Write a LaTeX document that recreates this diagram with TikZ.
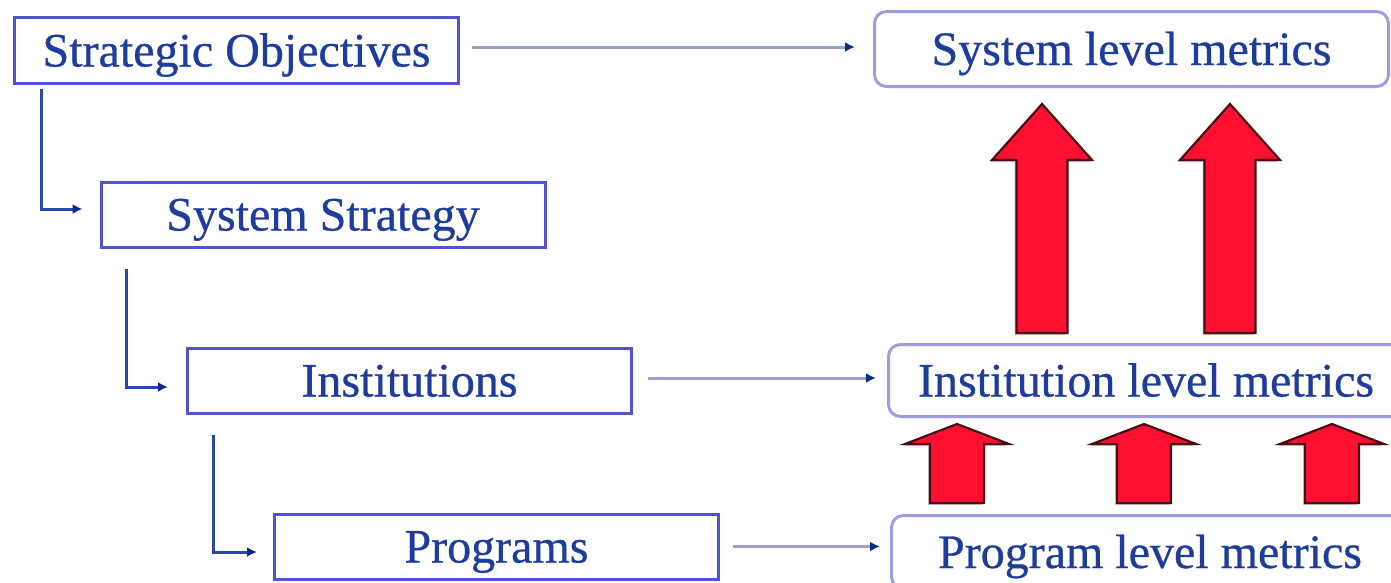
\documentclass[tikz,border=0pt]{standalone}
\usepackage{fontspec}
\setmainfont{Liberation Serif}[FakeBold=0.6]
\usetikzlibrary{arrows.meta}
\definecolor{boxblue}{HTML}{5252D2}
\definecolor{softblue}{HTML}{9C9CE2}
\definecolor{inkblue}{HTML}{1E3C9C}
\definecolor{linkblue}{HTML}{2A48AA}
\definecolor{pale}{HTML}{98A0CC}
\definecolor{tipblue}{HTML}{0A2A8E}
\definecolor{arrowred}{HTML}{FF1030}
\definecolor{arrowrim}{HTML}{4A0C12}

% block arrow pointing up: centre x, tip y, head base y, bottom y, head half width, shaft half width
\newcommand\liftarrow[6]{%
  \fill[black!22,xshift=-2pt,yshift=-2pt]
    (#1,#2) -- ({#1+#5},#3) -- ({#1+#6},#3) -- ({#1+#6},#4)
    -- ({#1-#6},#4) -- ({#1-#6},#3) -- ({#1-#5},#3) -- cycle;
  \filldraw[fill=arrowred,draw=arrowrim,line width=2.2pt,line join=miter]
    (#1,#2) -- ({#1+#5},#3) -- ({#1+#6},#3) -- ({#1+#6},#4)
    -- ({#1-#6},#4) -- ({#1-#6},#3) -- ({#1-#5},#3) -- cycle;
}

\begin{document}
\begin{tikzpicture}[x=1pt,y=-1pt,
  every node/.style={font=\fontsize{48}{56}\selectfont, text=inkblue,
    inner sep=0pt, text height=32pt, text depth=0pt},
  levelbox/.style={draw=boxblue, line width=3pt, minimum width=444pt, minimum height=65pt},
  metricbox/.style={draw=softblue, line width=3pt, rounded corners=12pt},
  elbow/.style={draw=linkblue, line width=3pt, -{Latex[length=10pt,width=10pt,color=tipblue]}},
  feed/.style={draw=pale, line width=3pt, -{Latex[length=10pt,width=10pt,color=tipblue]}},
]
\clip (0,0) rectangle (1391,582);
\fill[white] (0,0) rectangle (1391,582);

% strategy cascade
\node[levelbox, minimum height=66pt] (so) at (236.5,50.5) {Strategic Objectives};
\node[levelbox] (ss)   at (323,214.5)   {System Strategy};
\node[levelbox] (inst) at (409.5,380.5) {Institutions};
\node[levelbox] (prog) at (496.5,546.5) {Programs};

% metric levels
\node[metricbox, minimum width=514pt, minimum height=75pt] (sysm)  at (1131.5,49)  {System level metrics};
\node[metricbox, minimum width=515pt, minimum height=72pt] (instm) at (1146,380.5) {Institution level metrics};
\node[metricbox, minimum width=517pt, minimum height=73pt] (progm) at (1150,552)   {Program level metrics};

% cascade connectors
\draw[elbow] ([shift={(28pt,-4pt)}]so.south west) |- ([shift={(-17pt,5.5pt)}]ss.west);
\draw[elbow] ([shift={(27pt,-20pt)}]ss.south west) |- ([shift={(-18pt,-6.5pt)}]inst.west);
\draw[elbow] ([shift={(27pt,-20pt)}]inst.south west) |- ([shift={(-16pt,-5.5pt)}]prog.west);

% level to metric connectors
\draw[feed, shorten >=18pt] ([shift={(12pt,3.5pt)}]so.east) coordinate (f1) -- (f1 -| sysm.west);
\draw[feed, shorten >=11pt] ([shift={(15pt,2.5pt)}]inst.east) coordinate (f2) -- (f2 -| instm.west);
\draw[feed, shorten >=10pt] ([shift={(13pt,0pt)}]prog.east) coordinate (f3) -- (f3 -| progm.west);

% roll-up arrows
\liftarrow{1042}{104}{160}{333}{50}{25.5}
\liftarrow{1230}{104}{160}{333}{50}{25.5}
\liftarrow{957}{424}{444}{503}{52}{27}
\liftarrow{1144}{424}{444}{503}{52}{27}
\liftarrow{1332}{424}{444}{503}{52}{27}
\end{tikzpicture}
\end{document}
